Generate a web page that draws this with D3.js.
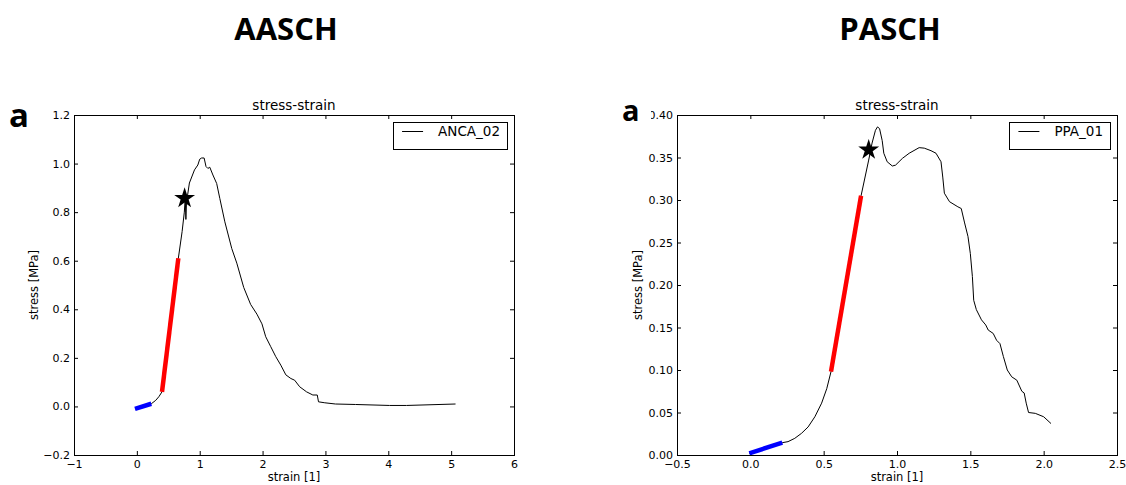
<!DOCTYPE html>
<html>
<head>
<meta charset="utf-8">
<script src="https://cdn.jsdelivr.net/npm/d3@7"></script>
<style>
  body { margin: 0; background: #fff; }
  svg { display: block; }
</style>
</head>
<body>
<div id="chart"></div>
<script>
// ANCA_02 (AASCH) curve
const ancaStrain = [-0.03, 0.23, 0.30, 0.35, 0.40, 0.66, 0.72, 0.755, 0.77, 0.78, 0.79, 0.836, 0.917, 0.97, 1.0, 1.03, 1.07, 1.10, 1.13, 1.16, 1.21, 1.27, 1.32, 1.40, 1.51, 1.59, 1.70, 1.81, 1.91, 1.99, 2.05, 2.13, 2.21, 2.29, 2.37, 2.45, 2.51, 2.59, 2.70, 2.80, 2.87, 2.89, 2.99, 3.16, 3.48, 4.02, 4.29, 5.07];
const ancaStress = [-0.01, 0.011, 0.025, 0.04, 0.06, 0.61, 0.72, 0.80, 0.86, 0.77, 0.84, 0.92, 0.974, 0.994, 1.018, 1.023, 1.023, 0.988, 0.98, 0.985, 0.953, 0.918, 0.856, 0.76, 0.65, 0.59, 0.49, 0.42, 0.38, 0.34, 0.287, 0.246, 0.205, 0.17, 0.13, 0.115, 0.108, 0.081, 0.06, 0.047, 0.047, 0.019, 0.015, 0.01, 0.008, 0.004, 0.004, 0.01];
const ancaBlue = [[-0.03, -0.01], [0.23, 0.011]];
const ancaRed = [[0.40, 0.06], [0.66, 0.61]];
const ancaStar = [0.76, 0.857];

// PPA_01 (PASCH) curve
const ppaStrain = [-0.007, 0.218, 0.257, 0.303, 0.349, 0.394, 0.44, 0.486, 0.521, 0.55, 0.755, 0.807, 0.83, 0.853, 0.867, 0.881, 0.899, 0.91, 0.933, 0.968, 0.99, 1.037, 1.083, 1.151, 1.186, 1.232, 1.266, 1.30, 1.312, 1.323, 1.358, 1.415, 1.438, 1.461, 1.484, 1.50, 1.514, 1.523, 1.541, 1.576, 1.605, 1.622, 1.656, 1.679, 1.702, 1.725, 1.752, 1.782, 1.817, 1.851, 1.867, 1.881, 1.897, 1.943, 2.0, 2.05];
const ppaStress = [0.002, 0.0145, 0.0157, 0.0196, 0.0255, 0.033, 0.045, 0.061, 0.078, 0.098, 0.305, 0.347, 0.367, 0.382, 0.386, 0.384, 0.37, 0.355, 0.345, 0.34, 0.341, 0.349, 0.355, 0.3616, 0.361, 0.358, 0.355, 0.345, 0.327, 0.308, 0.298, 0.292, 0.29, 0.273, 0.257, 0.237, 0.21, 0.182, 0.171, 0.159, 0.153, 0.147, 0.143, 0.135, 0.131, 0.116, 0.1, 0.092, 0.088, 0.075, 0.073, 0.061, 0.050, 0.049, 0.045, 0.037];
const ppaBlue = [[-0.007, 0.002], [0.218, 0.0145]];
const ppaRed = [[0.55, 0.098], [0.755, 0.305]];
const ppaStar = [0.807, 0.359];

// tick labels
const leftXTicks = [-1, 0, 1, 2, 3, 4, 5, 6];
const leftYTicks = [-0.2, 0.0, 0.2, 0.4, 0.6, 0.8, 1.0, 1.2];
const rightXTicks = [-0.5, 0.0, 0.5, 1.0, 1.5, 2.0, 2.5];
const rightYTicks = [0.0, 0.05, 0.10, 0.15, 0.20, 0.25, 0.30, 0.35, 0.40];

const width = 1126;
const height = 485;
const font = "'DejaVu Sans', sans-serif";

const svg = d3.select("#chart")
              .append("svg")
              .attr("width", width)
              .attr("height", height);

const drawPanel = (opt) => {
    const w = 440, h = 340;

    const xScale = d3.scaleLinear()
                .domain(opt.xDomain)
                .range([0, w]);

    const yScale = d3.scaleLinear()
                .domain(opt.yDomain)
                .range([h, 0]);

    const g = svg.append("g")
                .attr("transform", `translate(${opt.left}, ${opt.top})`);

    // axes, ticks pointing inwards on all four sides
    const styleAxis = (sel) => {
        sel.select(".domain").remove();
        sel.selectAll("line").attr("stroke", "#000");
        sel.selectAll("text")
           .attr("font-family", font)
           .attr("font-size", 11)
           .attr("fill", "#000");
    };

    g.append("g")
        .attr("transform", `translate(0, ${h})`)
        .call(d3.axisBottom(xScale).tickValues(opt.xTicks).tickFormat(d3.format(opt.xFmt))
              .tickSizeInner(-4).tickSizeOuter(0).tickPadding(5))
        .call(styleAxis);

    g.append("g")
        .call(d3.axisLeft(yScale).tickValues(opt.yTicks).tickFormat(d3.format(opt.yFmt))
              .tickSizeInner(-4).tickSizeOuter(0).tickPadding(4))
        .call(styleAxis);

    g.append("g")
        .call(d3.axisTop(xScale).tickValues(opt.xTicks).tickFormat("")
              .tickSizeInner(-4).tickSizeOuter(0))
        .call(styleAxis);

    g.append("g")
        .attr("transform", `translate(${w}, 0)`)
        .call(d3.axisRight(yScale).tickValues(opt.yTicks).tickFormat("")
              .tickSizeInner(-4).tickSizeOuter(0))
        .call(styleAxis);

    // frame
    g.append("rect")
        .attr("x", 0.5)
        .attr("y", 0.5)
        .attr("width", w)
        .attr("height", h)
        .attr("fill", "none")
        .attr("stroke", "#000")
        .attr("stroke-width", 1);

    const clip = g.append("clipPath").attr("id", `clip-${opt.id}`);
    clip.append("rect").attr("width", w).attr("height", h);

    const plot = g.append("g").attr("clip-path", `url(#clip-${opt.id})`);

    const lineGenerator = d3.line()
                        .x(d => xScale(d[0]))
                        .y(d => yScale(d[1]));

    const curve = opt.strain.map((s, i) => [s, opt.stress[i]]);

    plot.append("path")
        .attr("d", lineGenerator(curve))
        .attr("fill", "none")
        .attr("stroke", "#000")
        .attr("stroke-width", 1);

    plot.append("path")
        .attr("d", lineGenerator(opt.blue))
        .attr("fill", "none")
        .attr("stroke", "#0000ff")
        .attr("stroke-width", 4.5);

    plot.append("path")
        .attr("d", lineGenerator(opt.red))
        .attr("fill", "none")
        .attr("stroke", "#ff0000")
        .attr("stroke-width", 4.5);

    plot.append("path")
        .attr("d", d3.symbol().type(d3.symbolStar).size(135)())
        .attr("transform", `translate(${xScale(opt.star[0])}, ${yScale(opt.star[1])})`)
        .attr("fill", "#000");

    // title and axis labels
    g.append("text")
        .text("stress-strain")
        .attr("x", w / 2)
        .attr("y", -5)
        .attr("text-anchor", "middle")
        .attr("font-family", font)
        .attr("font-size", 13.5);

    g.append("text")
        .text("strain [1]")
        .attr("x", w / 2)
        .attr("y", h + 26)
        .attr("text-anchor", "middle")
        .attr("font-family", font)
        .attr("font-size", 11.5);

    g.append("text")
        .text("stress [MPa]")
        .attr("transform", `translate(${opt.yLabelX}, ${h / 2}) rotate(-90)`)
        .attr("text-anchor", "middle")
        .attr("dominant-baseline", "middle")
        .attr("font-family", font)
        .attr("font-size", 11.5);

    // legend
    const key = g.append("g");
    const keyText = key.append("text")
        .text(opt.name)
        .attr("font-family", font)
        .attr("font-size", 13.5)
        .attr("y", 21);
    const textLen = keyText.node().getComputedTextLength();
    const boxW = 45 + textLen + 7;
    const boxX = w - 7 - boxW;
    keyText.attr("x", boxX + 45);

    key.insert("rect", "text")
        .attr("x", Math.round(boxX) + 0.5)
        .attr("y", 7.5)
        .attr("width", Math.round(boxW))
        .attr("height", 27)
        .attr("fill", "#fff")
        .attr("stroke", "#000")
        .attr("stroke-width", 1);

    key.append("line")
        .attr("x1", boxX + 9)
        .attr("x2", boxX + 30)
        .attr("y1", 16.5)
        .attr("y2", 16.5)
        .attr("stroke", "#000")
        .attr("stroke-width", 1);
};

drawPanel({
    id: "anca", name: "ANCA_02", left: 74, top: 115,
    xDomain: [-1, 6], yDomain: [-0.2, 1.2],
    xTicks: leftXTicks, yTicks: leftYTicks, xFmt: "d", yFmt: ".1f",
    strain: ancaStrain, stress: ancaStress,
    blue: ancaBlue, red: ancaRed, star: ancaStar,
    yLabelX: -40
});

drawPanel({
    id: "ppa", name: "PPA_01", left: 677, top: 115,
    xDomain: [-0.5, 2.5], yDomain: [0, 0.40],
    xTicks: rightXTicks, yTicks: rightYTicks, xFmt: ".1f", yFmt: ".2f",
    strain: ppaStrain, stress: ppaStress,
    blue: ppaBlue, red: ppaRed, star: ppaStar,
    yLabelX: -39
});

// panel headings and the "a" letters (the right one hides part of the 0.40 label)
svg.append("rect")
    .attr("x", 615)
    .attr("y", 95)
    .attr("width", 36)
    .attr("height", 32)
    .attr("fill", "#fff");

svg.append("text")
    .text("a")
    .attr("x", 9)
    .attr("y", 127)
    .attr("font-family", "'Open Sans', sans-serif")
    .attr("font-weight", 700)
    .attr("font-size", 33);

svg.append("text")
    .text("a")
    .attr("x", 622)
    .attr("y", 121)
    .attr("font-family", "'Open Sans', sans-serif")
    .attr("font-weight", 700)
    .attr("font-size", 29);

svg.append("text")
    .text("AASCH")
    .attr("x", 286)
    .attr("y", 40)
    .attr("text-anchor", "middle")
    .attr("font-family", "'Open Sans', sans-serif")
    .attr("font-weight", 700)
    .attr("font-size", 31);

svg.append("text")
    .text("PASCH")
    .attr("x", 890)
    .attr("y", 40)
    .attr("text-anchor", "middle")
    .attr("font-family", "'Open Sans', sans-serif")
    .attr("font-weight", 700)
    .attr("font-size", 31);
</script>
</body>
</html>
